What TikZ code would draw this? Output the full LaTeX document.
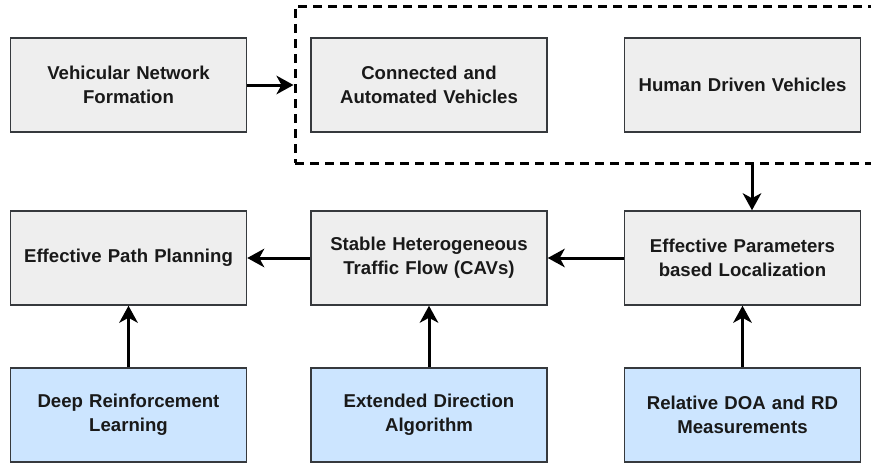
\documentclass[tikz,border=0pt]{standalone}
\usepackage{fontspec}
\setmainfont{Liberation Sans}
\usetikzlibrary{arrows.meta}
\definecolor{boxgray}{HTML}{EEEEEE}
\definecolor{boxblue}{HTML}{CCE5FF}
\definecolor{boxline}{HTML}{36393D}
\tikzset{
  box/.style={draw=boxline, line width=1.5pt, fill=boxgray, minimum width=236pt, minimum height=94pt,
    inner sep=0pt, align=center, text width=230pt, font=\fontsize{18.6}{24}\selectfont\bfseries, text=black!90},
  bluebox/.style={box, fill=boxblue},
  conn/.style={line width=3pt, -{Stealth[length=17pt, width=18.5pt, inset=5pt]}},
  grp/.style={draw=black, line width=3pt, dash pattern=on 9pt off 6pt, inner sep=0pt}
}
\begin{document}
\begin{tikzpicture}[x=1pt, y=-1pt]
\useasboundingbox (0,0) rectangle (871,463);
\node[grp, minimum width=580pt, minimum height=157pt] (group) at (585,84.5) {};
\node[box] (vnf) at (128.5,85) {Vehicular Network\\Formation};
\node[box] (cav) at (429,85) {Connected and\\Automated Vehicles};
\node[box] (hdv) at (742.5,85) {Human Driven Vehicles};
\node[box] (epp) at (128.5,258) {Effective Path Planning};
\node[box] (sht) at (429,258) {Stable Heterogeneous\\Traffic Flow (CAVs)};
\node[box] (epl) at (742.5,258) {Effective Parameters\\based Localization};
\node[bluebox] (drl) at (128.5,415) {Deep Reinforcement\\Learning};
\node[bluebox] (eda) at (429,415) {Extended Direction\\Algorithm};
\node[bluebox] (rdoa) at (742.5,415) {Relative DOA and RD\\Measurements};
\draw[conn] (vnf.east) -- (group.west |- vnf.east);
\draw[conn] (group.south -| 752,0) -- (epl.north -| 752,0);
\draw[conn] (epl.west) -- (sht.east);
\draw[conn] (sht.west) -- (epp.east);
\draw[conn] (drl.north) -- (epp.south);
\draw[conn] (eda.north) -- (sht.south);
\draw[conn] (rdoa.north) -- (epl.south);
\end{tikzpicture}
\end{document}
